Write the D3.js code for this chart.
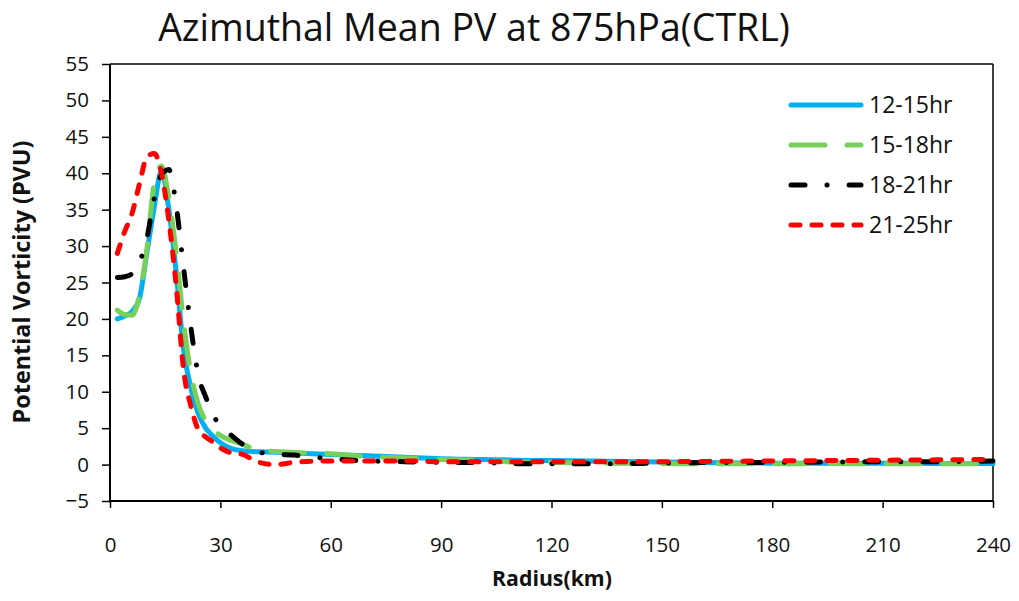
<!DOCTYPE html>
<html>
<head>
<meta charset="utf-8">
<script src="https://cdn.jsdelivr.net/npm/d3@7/dist/d3.min.js"></script>
<style>
  html, body { margin: 0; padding: 0; background: #fff; }
  svg { display: block; font-family: "Open Sans", "Liberation Sans", sans-serif; }
</style>
</head>
<body>
<svg id="chart" width="1019" height="601"></svg>
<script>
// ---- data ----
const radius = [2,4,6,8,10,12,14,16,18,20,22,24,26,28,30,33,36,40,45,50,60,70,80,90,100,110,120,135,150,165,180,195,210,225,240];
const pv12_15 = [20.0,20.4,21.0,22.8,29.0,35.3,40.3,35.0,26.3,15.8,10.5,7.0,5.0,3.9,3.0,2.2,1.9,1.75,1.7,1.6,1.4,1.2,1.0,0.8,0.7,0.6,0.55,0.45,0.35,0.25,0.2,0.2,0.2,0.15,0.15];
const pv15_18 = [21.2,20.6,20.5,23.2,29.5,38.5,41.0,36.5,29.0,19.5,12.5,8.3,6.0,4.8,4.0,3.3,2.8,2.0,1.8,1.65,1.5,1.1,0.9,0.7,0.6,0.35,0.3,0.2,0.15,0.1,0.1,0.15,0.1,0.1,0.1];
const pv18_21 = [25.7,25.8,26.2,27.8,31.0,36.5,39.8,40.5,35.5,27.0,18.8,12.3,9.3,6.8,5.4,4.0,2.8,1.8,1.4,1.3,0.8,0.5,0.4,0.3,0.3,0.1,0.1,0.1,0.2,0.3,0.3,0.35,0.4,0.4,0.5];
const pv21_25 = [29.0,32.0,34.5,38.5,42.2,42.7,40.0,33.5,24.5,13.0,8.0,4.8,3.8,3.1,2.3,1.6,1.4,0.4,0.0,0.3,0.5,0.5,0.5,0.4,0.4,0.4,0.4,0.4,0.4,0.45,0.5,0.55,0.6,0.65,0.7];
const seriesNames = ["12-15hr","15-18hr","18-21hr","21-25hr"];
const xTicks = [0,30,60,90,120,150,180,210,240];
const yTicks = [-5,0,5,10,15,20,25,30,35,40,45,50,55];

// ---- styles ----
const styles = [
  {color:"#00B0F0", dash:null},
  {color:"#77D05A", dash:"34 22"},
  {color:"#000000", dash:"14 22 0.1 22"},
  {color:"#FF0000", dash:"9 12"}
];
const seriesValues = [pv12_15, pv15_18, pv18_21, pv21_25];

const svg = d3.select("#chart");
const L = 110, R = 993, T = 64, B = 501;
const x = d3.scaleLinear().domain([0,240]).range([L,R]);
const y = d3.scaleLinear().domain([-5,55]).range([B,T]);

// frame top/right
svg.append("line").attr("x1",L).attr("x2",R).attr("y1",T).attr("y2",T).attr("stroke","#000").attr("stroke-width",1.5);
svg.append("line").attr("x1",R).attr("x2",R).attr("y1",T).attr("y2",B).attr("stroke","#000").attr("stroke-width",1.5);

// axes
const yAxis = svg.append("g").attr("transform",`translate(${L},0)`)
  .call(d3.axisLeft(y).tickValues(yTicks).tickSize(8).tickPadding(13).tickFormat(d3.format("d")));
const xAxis = svg.append("g").attr("transform",`translate(0,${B})`)
  .call(d3.axisBottom(x).tickValues(xTicks).tickSize(7).tickPadding(29).tickFormat(d3.format("d")));
[yAxis,xAxis].forEach(g=>{
  g.select(".domain").attr("stroke","#000").attr("stroke-width",2);
  g.selectAll(".tick line").attr("stroke","#000").attr("stroke-width",1.5);
  g.selectAll(".tick text").attr("fill","#111").style("font-size","20.5px").style("font-family","'Open Sans', sans-serif");
});
xAxis.select(".domain").attr("d",`M${L},0H${R}`);
yAxis.select(".domain").attr("d",`M0,${B}V${T}`);

// lines
const line = d3.line().x((d,i)=>x(radius[i])).y(d=>y(d)).curve(d3.curveMonotoneX);
seriesValues.forEach((vals,k)=>{
  svg.append("path").datum(vals).attr("d",line)
    .attr("fill","none").attr("stroke",styles[k].color).attr("stroke-width",5)
    .attr("stroke-linecap","round").attr("stroke-linejoin","round")
    .attr("stroke-dasharray",styles[k].dash);
});

// legend
const legY = [105,145,185,225];
seriesNames.forEach((name,k)=>{
  svg.append("line").attr("x1",791).attr("x2",861).attr("y1",legY[k]).attr("y2",legY[k])
    .attr("stroke",styles[k].color).attr("stroke-width",5).attr("stroke-linecap","round")
    .attr("stroke-dasharray",styles[k].dash);
  svg.append("text").attr("x",869).attr("y",legY[k]+8).text(name)
    .style("font-size","23px").attr("fill","#111");
});

// title & axis labels
function fit(sel, w){
  const len = sel.node().getComputedTextLength();
  const fs = parseFloat(sel.style("font-size"));
  sel.style("font-size", (fs*w/len)+"px");
}
const title = svg.append("text").attr("x",474).attr("y",41).attr("text-anchor","middle")
  .text("Azimuthal Mean PV at 875hPa(CTRL)").style("font-size","36px").attr("fill","#111");
fit(title, 632);
const ylab = svg.append("text").attr("transform","translate(30,282) rotate(-90)").attr("text-anchor","middle")
  .text("Potential Vorticity (PVU)").style("font-size","20px").style("font-weight","bold").attr("fill","#111");
fit(ylab, 283);
const xlab = svg.append("text").attr("x",552).attr("y",586).attr("text-anchor","middle")
  .text("Radius(km)").style("font-size","20px").style("font-weight","bold").attr("fill","#111");
fit(xlab, 120);
</script>
</body>
</html>
